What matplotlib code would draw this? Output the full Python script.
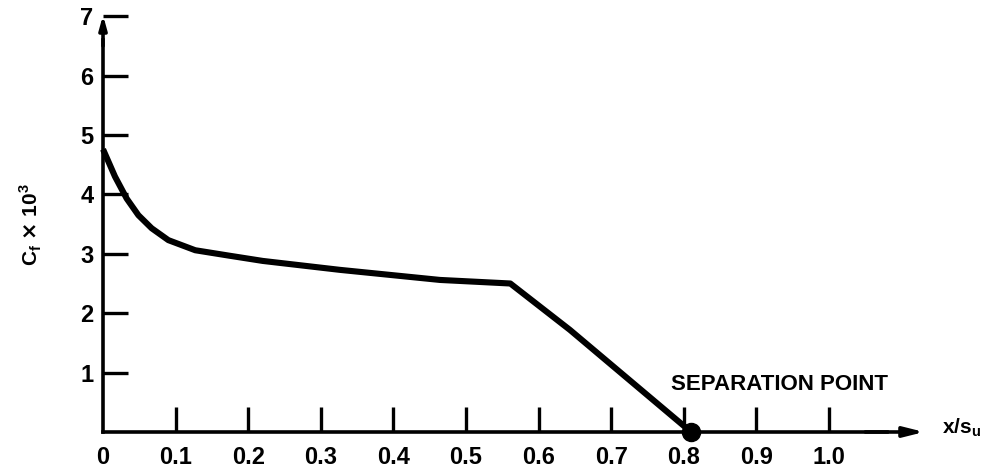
import numpy as np
import matplotlib.pyplot as plt

plt.rcParams['font.family'] = ['Liberation Sans', 'DejaVu Sans']
plt.rcParams['font.weight'] = 'bold'

# skin friction coefficient along the surface
x_s = [0.0, 0.0165, 0.0326, 0.0487, 0.067, 0.09, 0.127, 0.173, 0.22, 0.326, 0.464, 0.561, 0.643, 0.81]
cf = [4.76, 4.30, 3.93, 3.65, 3.43, 3.23, 3.06, 2.97, 2.88, 2.73, 2.56, 2.50, 1.72, 0.0]

sep_x = 0.81
sep_y = 0.0

xticks = [0.1, 0.2, 0.3, 0.4, 0.5, 0.6, 0.7, 0.8, 0.9, 1.0]
xlabels = ['0.1', '0.2', '0.3', '0.4', '0.5', '0.6', '0.7', '0.8', '0.9', '1.0']
yticks = [1, 2, 3, 4, 5, 6, 7]

fig = plt.figure(figsize=(9.91, 4.70), dpi=100)
ax = fig.add_axes([0, 0, 1, 1])
ax.set_xlim(-0.1419, 1.2231)
ax.set_ylim(-0.640, 7.273)

ax.plot(x_s, cf, color='black', lw=4.4, solid_capstyle='butt', solid_joinstyle='round')
ax.plot([sep_x], [sep_y], 'o', color='black', markersize=13, clip_on=False)

# axes as arrows
for s in ['top', 'right']:
    ax.spines[s].set_visible(False)
ax.spines['left'].set_position(('data', 0))
ax.spines['bottom'].set_position(('data', 0))
ax.spines['left'].set_bounds(0, 6.6)
ax.spines['bottom'].set_bounds(0, 1.08)
ax.spines['left'].set_linewidth(2.6)
ax.spines['bottom'].set_linewidth(2.6)
ax.annotate('', xy=(0, 7.02), xytext=(0, 6.5),
            arrowprops=dict(arrowstyle='-|>,head_length=0.8,head_width=0.22', lw=2.6,
                            color='black', shrinkA=0, shrinkB=0))
ax.annotate('', xy=(1.131, 0), xytext=(1.05, 0),
            arrowprops=dict(arrowstyle='-|>,head_length=1.2,head_width=0.3', lw=2.6,
                            color='black', shrinkA=0, shrinkB=0))

ax.set_xticks(xticks)
ax.set_xticklabels(xlabels)
ax.set_yticks(yticks)
ax.tick_params(axis='both', direction='in', length=18, width=2.4, labelsize=17)
ax.tick_params(axis='x', pad=10)
ax.tick_params(axis='y', pad=7)
ax.text(0, -0.24, '0', ha='center', va='top', fontsize=17)

ax.text(-0.1, 3.5, r'C$_\mathregular{f}$ $\times$ 10$^\mathregular{3}$', rotation=90,
        ha='center', va='center', fontsize=15)
ax.text(1.155, 0.08, r'x/s$_\mathregular{u}$', ha='left', va='center', fontsize=15)
ax.text(0.782, 0.8, 'SEPARATION POINT', ha='left', va='center', fontsize=16)

fig.savefig('out.png', dpi=100)
